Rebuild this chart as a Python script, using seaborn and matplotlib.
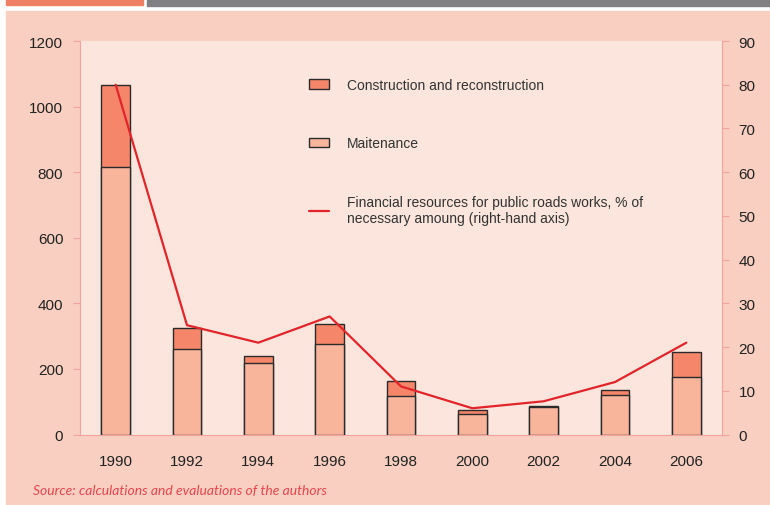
import numpy as np
import pandas as pd
import seaborn as sns
import matplotlib.pyplot as plt
from matplotlib.patches import Rectangle

# data
years = ["1990", "1992", "1994", "1996", "1998", "2000", "2002", "2004", "2006"]
maintenance = [815, 260, 219, 275, 118, 64, 84, 121, 175]
construction = [250, 65, 21, 63, 44, 11, 2, 15, 76]
financial_pct = [80, 25, 21, 27, 11, 6, 7.6, 12, 21]

total = [m + c for m, c in zip(maintenance, construction)]
df = pd.DataFrame({"year": years, "maint": maintenance, "total": total, "pct": financial_pct})

outer_bg = "#f8cfc0"
inner_bg = "#fbe5dc"
axis_col = "#f2a3a0"
c_constr = "#f5866a"
c_maint = "#f9b59b"
c_line = "#e3242b"

sns.set_style("white")
plt.rcParams["font.family"] = ["Liberation Sans", "DejaVu Sans"]

fig = plt.figure(figsize=(7.7, 5.06), dpi=100)
fig.patch.set_facecolor("white")

# top stripes and outer panel
fig.patches.append(Rectangle((6 / 770, 1 - 6 / 506), 137 / 770, 6 / 506,
                             transform=fig.transFigure, color="#f08065", zorder=-5))
fig.patches.append(Rectangle((147 / 770, 1 - 7 / 506), 623 / 770, 7 / 506,
                             transform=fig.transFigure, color="#808083", zorder=-5))
fig.patches.append(Rectangle((6 / 770, 1 / 506), 764 / 770, 493 / 506,
                             transform=fig.transFigure, color=outer_bg, zorder=-5))

ax = fig.add_axes([80 / 770, 1 - 435.5 / 506, 642 / 770, 393.5 / 506])
ax.set_facecolor(inner_bg)

sns.barplot(data=df, x="year", y="total", color=c_constr, width=0.4, saturation=1,
            edgecolor="#2b2b2b", linewidth=1, ax=ax, label="Construction and reconstruction")
sns.barplot(data=df, x="year", y="maint", color=c_maint, width=0.4, saturation=1,
            edgecolor="#2b2b2b", linewidth=1, ax=ax, label="Maitenance")

ax.set_ylim(0, 1200)
ax.set_yticks(range(0, 1201, 200))
ax.set_xlim(-0.5, len(years) - 0.5)
ax.set_xlabel("")
ax.set_ylabel("")

ax2 = ax.twinx()
sns.lineplot(x=np.arange(len(years)), y=financial_pct, color=c_line, linewidth=1.6, ax=ax2,
             label="Financial resources for public roads works, % of\nnecessary amoung (right-hand axis)")
ax2.set_ylim(0, 90)
ax2.set_yticks(range(0, 91, 10))
ax2.set_xlim(-0.5, len(years) - 0.5)

for a in (ax, ax2):
    a.spines["top"].set_visible(False)
    for s in ("left", "right", "bottom"):
        a.spines[s].set_color(axis_col)
        a.spines[s].set_linewidth(0.8)
    a.tick_params(axis="y", length=5, color=axis_col, labelsize=11, labelcolor="#222222", pad=7)

ax.spines["right"].set_visible(False)
ax2.spines["left"].set_visible(False)
ax2.spines["bottom"].set_visible(False)

# category boundary ticks on x
ax.set_xticks(np.arange(-0.5, len(years), 1), minor=True)
ax.tick_params(axis="x", which="minor", length=6, color=axis_col)
ax.tick_params(axis="x", which="major", length=0, labelsize=11, labelcolor="#222222", pad=14)

h1, l1 = ax.get_legend_handles_labels()
h2, l2 = ax2.get_legend_handles_labels()
if ax2.get_legend():
    ax2.get_legend().remove()
leg = ax.legend(h1 + h2, l1 + l2, loc="upper left", bbox_to_anchor=(309 / 770, 1 - 79 / 506),
                bbox_transform=fig.transFigure, frameon=False, borderpad=0, borderaxespad=0,
                labelspacing=3.2, handlelength=1.45, handleheight=0.65, handletextpad=1.3,
                prop={"size": 10})
for t in leg.get_texts():
    t.set_color("#333333")

fig.text(33 / 770, 1 - 491 / 506, "Source: calculations and evaluations of the authors",
         style="italic", color="#e8454f", fontsize=10, va="center", family=["Lato", "DejaVu Sans"])

fig.savefig("out.png", dpi=100, facecolor=fig.get_facecolor())
